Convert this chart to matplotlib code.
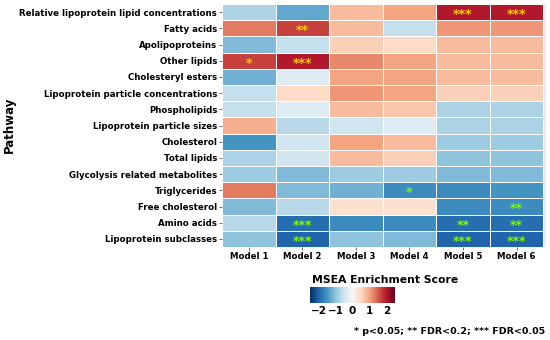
import numpy as np
import matplotlib
matplotlib.use("Agg")
import matplotlib.pyplot as plt
from matplotlib.colors import Normalize

# pathways (top to bottom) and model columns
pathways = ["Relative lipoprotein lipid concentrations", "Fatty acids", "Apolipoproteins",
            "Other lipids", "Cholesteryl esters", "Lipoprotein particle concentrations",
            "Phospholipids", "Lipoprotein particle sizes", "Cholesterol", "Total lipids",
            "Glycolysis related metabolites", "Triglycerides", "Free cholesterol",
            "Amino acids", "Lipoprotein subclasses"]
models = ["Model 1", "Model 2", "Model 3", "Model 4", "Model 5", "Model 6"]

# enrichment scores, one list per pathway
scores = [
    [-0.8, -1.3, 0.8, 1.0, 2.0, 2.0],
    [1.3, 1.7, 0.8, -0.6, 1.1, 1.1],
    [-1.1, -0.6, 0.6, 0.5, 0.8, 0.8],
    [1.7, 2.0, 1.2, 1.0, 0.8, 0.8],
    [-1.2, -0.3, 1.0, 1.0, 0.8, 0.8],
    [-0.6, 0.5, 1.1, 1.0, 0.6, 0.6],
    [-0.6, -0.3, 0.8, 0.7, -0.8, -0.8],
    [0.9, -0.7, -0.5, -0.3, -0.8, -0.8],
    [-1.5, -0.5, 1.0, 0.8, -0.9, -0.9],
    [-0.8, -0.5, 0.8, 0.6, -1.0, -1.0],
    [-0.9, -1.1, -0.9, -0.9, -1.1, -1.1],
    [1.3, -1.1, -1.2, -1.6, -1.6, -1.5],
    [-1.1, -0.7, 0.4, 0.4, -1.6, -1.6],
    [-0.7, -1.9, -1.6, -1.6, -1.9, -1.9],
    [-1.0, -2.0, -1.0, -1.1, -2.0, -2.0],
]

# significance marks
stars = [
    ["", "", "", "", "***", "***"],
    ["", "**", "", "", "", ""],
    ["", "", "", "", "", ""],
    ["*", "***", "", "", "", ""],
    ["", "", "", "", "", ""],
    ["", "", "", "", "", ""],
    ["", "", "", "", "", ""],
    ["", "", "", "", "", ""],
    ["", "", "", "", "", ""],
    ["", "", "", "", "", ""],
    ["", "", "", "", "", ""],
    ["", "", "", "*", "", ""],
    ["", "", "", "", "", "**"],
    ["", "***", "", "", "**", "**"],
    ["", "***", "", "", "***", "***"],
]

plt.rcParams['font.family'] = 'DejaVu Sans'
plt.rcParams['font.weight'] = 'bold'

fig = plt.figure(figsize=(5.5, 3.4), dpi=100)
ax = fig.add_axes([222/550, 1-247/340, 324/550, 243/340])
ax.set_facecolor("#EBEBEB")

data = np.array(scores)
norm = Normalize(vmin=-2.5, vmax=2.5)
cmap = plt.get_cmap("RdBu_r")
mesh = ax.pcolormesh(data, cmap=cmap, norm=norm, edgecolors="white", linewidth=0.4)

ax.set_xlim(0, 6.05)
ax.set_ylim(len(pathways), 0)

for i in range(len(pathways)):
    for j in range(len(models)):
        s = stars[i][j]
        if s:
            col = "#FFD400" if data[i, j] > 0 else "#7CFC00"
            ax.text(j + 0.5, i + 0.65, s, ha="center", va="center",
                    color=col, fontsize=9, fontweight="bold")

ax.set_xticks(np.arange(len(models)) + 0.5)
ax.set_xticklabels(models, fontsize=6.2, fontweight="bold")
ax.set_yticks(np.arange(len(pathways)) + 0.5)
ax.set_yticklabels(pathways, fontsize=6.2, fontweight="bold")
ax.tick_params(length=2, width=0.6, color="#555555", pad=1.5)
for sp in ax.spines.values():
    sp.set_visible(False)

fig.text(9/550, 1-125/340, "Pathway", rotation=90, ha="center", va="center",
         fontsize=8.5, fontweight="bold")

# colour bar legend
cax = fig.add_axes([310/550, 1-303/340, 85/550, 16/340])
cb = fig.colorbar(mesh, cax=cax, orientation="horizontal", ticks=[-2, -1, 0, 1, 2])
cb.outline.set_visible(False)
cb.ax.tick_params(length=0, labelsize=7.5, pad=2)
cb.ax.set_xticklabels(["\u22122", "\u22121", "0", "1", "2"], fontweight="bold")
fig.text(385/550, 1-280/340, "MSEA Enrichment Score", ha="center", va="center",
         fontsize=7.8, fontweight="bold")

fig.text(545/550, 1-331/340, "* p<0.05; ** FDR<0.2; *** FDR<0.05", ha="right",
         va="center", fontsize=6.8, fontweight="bold")

fig.savefig("out.png", dpi=100)
